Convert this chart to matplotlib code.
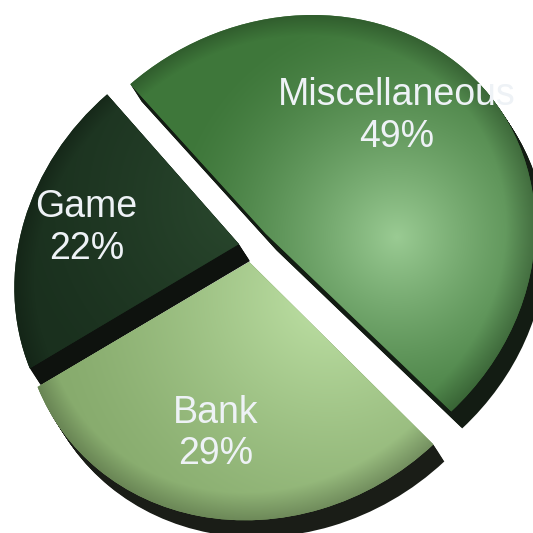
import numpy as np
import matplotlib
matplotlib.use("Agg")
from matplotlib import pyplot as plt
from matplotlib import transforms as mtransforms
from matplotlib.patches import Wedge
from matplotlib.colors import to_rgb

# Data
categories = ["Miscellaneous", "Game", "Bank"]
shares = [49, 22, 29]

# Look of the slices (same order as the data)
explode = [0.07, 0.057, 0.07]
edge_colours = ["#3e773a", "#1a301e", "#86aa6c"]
light_colours = ["#9acb93", "#2b4a2f", "#bfe2a6"]
side_colours = ["#131c13", "#0e120e", "#1a1d17"]
light_spots = [(397, 237), (250, 200), (330, 295)]
light_reach = [230, 250, 300]

# Canvas in pixels, pie plane seen in perspective
W = H = 533
CX, CY = 252.5, 245.5
SCALE = 239.5
SQUASH = 0.06                # disc tilted about the NE-SW axis
PHI = np.deg2rad(35.0)
TILT_U, TILT_V = -0.0876, 0.081
DEPTH = (11.0, 17.0)
N_LAYERS = 16

_rot = np.array([[np.cos(PHI), -np.sin(PHI)], [np.sin(PHI), np.cos(PHI)]])
LIN = SCALE * _rot @ np.diag([1 + SQUASH, 1 - SQUASH]) @ _rot.T
LIN_INV = np.linalg.inv(LIN)


class TiltedPlane(mtransforms.Transform):
    """Maps the flat pie plane onto the screen with a bit of perspective."""
    input_dims = output_dims = 2
    is_separable = False
    has_inverse = False

    def transform_non_affine(self, values):
        values = np.asarray(values, dtype=float)
        u, v = values[..., 0], values[..., 1]
        w = 1.0 + TILT_U * u + TILT_V * v
        ox = LIN[0, 0] * u / w + LIN[0, 1] * v / w
        oy = LIN[1, 0] * u / w + LIN[1, 1] * v / w
        return np.stack([CX + ox, CY - oy], axis=-1)


fig = plt.figure(figsize=(W / 100, H / 100), dpi=100)
ax = fig.add_axes([0, 0, 1, 1])

labels = ["{}\n{}%".format(c, s) for c, s in zip(categories, shares)]
wedges, texts = ax.pie(shares, labels=labels, explode=explode,
                       startangle=-45.5, counterclock=True,
                       labeldistance=0.69, radius=1.0)

# screen grid -> pie plane, used for the shading
ys, xs = np.mgrid[0:H, 0:W] + 0.5
ox, oy = xs - CX, CY - ys
a = LIN_INV[0, 0] * ox + LIN_INV[0, 1] * oy
b = LIN_INV[1, 0] * ox + LIN_INV[1, 1] * oy
w = 1.0 / (1.0 - TILT_U * a - TILT_V * b)
pu, pv = a * w, b * w

for i, wedge in enumerate(wedges):
    base_z = 3 * i + 1

    # extruded side: stack of dark copies pushed down
    for k in range(1, N_LAYERS + 1):
        f = k / N_LAYERS
        shift = mtransforms.Affine2D().translate(DEPTH[0] * f, DEPTH[1] * f)
        side = Wedge(wedge.center, wedge.r, wedge.theta1, wedge.theta2,
                     facecolor=side_colours[i], edgecolor="none",
                     zorder=base_z)
        side.set_transform(TiltedPlane() + shift + ax.transData)
        ax.add_patch(side)

    wedge.set_transform(TiltedPlane() + ax.transData)
    wedge.set_facecolor(edge_colours[i])
    wedge.set_edgecolor("none")
    wedge.set_zorder(base_z + 1)

    # glossy top face
    cu, cv = wedge.center
    r = np.hypot(pu - cu, pv - cv) / wedge.r
    hx, hy = light_spots[i]
    t = np.clip(np.hypot(xs - hx, ys - hy) / light_reach[i], 0, 1)
    mix = ((1 - t) ** 1.4)[..., None]
    rgb = np.array(to_rgb(edge_colours[i])) * (1 - mix) + \
        np.array(to_rgb(light_colours[i])) * mix
    rim = 1 - 0.22 * np.clip((r - 0.9) / 0.1, 0, 1)
    rgb = np.clip(rgb * rim[..., None], 0, 1)
    im = ax.imshow(rgb, extent=(0, W, H, 0), interpolation="bilinear",
                   zorder=base_z + 1.5)
    im.set_clip_path(wedge)

for txt in texts:
    txt.set_transform(TiltedPlane() + ax.transData)
    txt.set(ha="center", va="center", color="#eef2f6", fontsize=27,
            family="Liberation Sans", linespacing=1.2, zorder=20)

ax.set_xlim(0, W)
ax.set_ylim(H, 0)
ax.set_aspect("auto")
ax.axis("off")

fig.savefig("out.png", dpi=100, facecolor="white")
